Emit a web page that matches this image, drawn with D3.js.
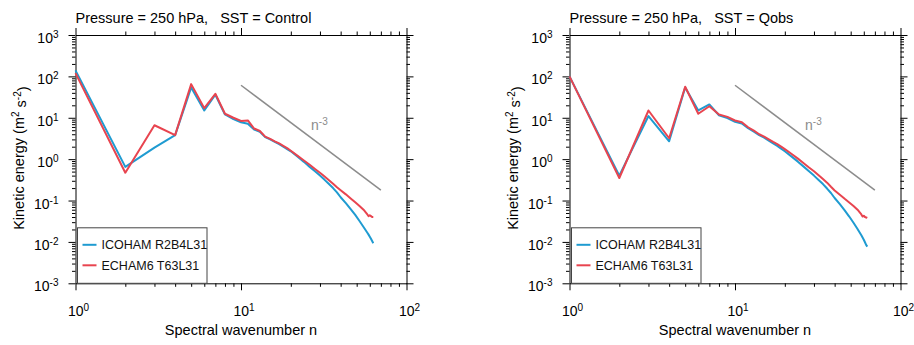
<!DOCTYPE html>
<html>
<head>
<meta charset="utf-8">
<script src="https://cdn.jsdelivr.net/npm/d3@7"></script>
<style>
  body { margin: 0; background: #fff; }
  svg { display: block; font-family: "Liberation Sans", Arial, Helvetica, sans-serif; }
</style>
</head>
<body>
<div id="chart"></div>
<script>
// wavenumbers sampled along the curves
const waveN = [1, 2, 3, 4, 5, 6, 7, 8, 9, 10, 11, 12, 13, 14, 15, 16, 17, 18, 19, 20,
    22, 24, 26, 28, 30, 32, 34, 36, 38, 40, 43, 46, 49, 52, 55, 58, 59, 60, 61, 62, 63];

// SST = Control
const icohamControl = [140, 0.65, 1.9, 3.8, 54, 15, 36, 12, 9.3, 7.8, 7.2, 5.2, 4.6, 3.4, 3.0, 2.6, 2.3, 2.0, 1.75, 1.55,
    1.15, 0.86, 0.65, 0.51, 0.40, 0.316, 0.25, 0.20, 0.158, 0.12, 0.0865, 0.062, 0.045, 0.032, 0.023, 0.0167, 0.015, 0.0134, 0.0119, 0.0105, 0.0093];
const echamControl = [120, 0.47, 6.6, 3.8, 65, 17, 38, 12.5, 10, 8.4, 8.6, 5.5, 4.8, 3.5, 3.1, 2.7, 2.4, 2.1, 1.85, 1.6,
    1.2, 0.93, 0.73, 0.58, 0.47, 0.38, 0.31, 0.255, 0.21, 0.178, 0.141, 0.112, 0.091, 0.074, 0.060, 0.046, 0.042, 0.044, 0.042, 0.040, 0.040];

// SST = Qobs
const icohamQobs = [100, 0.40, 11, 2.7, 54, 15, 21, 11.5, 9.8, 8.0, 7.3, 5.6, 4.6, 3.8, 3.3, 2.8, 2.4, 2.1, 1.8, 1.55,
    1.15, 0.87, 0.66, 0.51, 0.40, 0.315, 0.25, 0.195, 0.152, 0.115, 0.082, 0.058, 0.041, 0.029, 0.0205, 0.0145, 0.0128, 0.0113, 0.0098, 0.0085, 0.0077];
const echamQobs = [100, 0.35, 15, 3.2, 56, 12.5, 19, 12, 10.5, 8.6, 7.8, 5.9, 4.9, 4.0, 3.5, 3.0, 2.6, 2.3, 2.0, 1.75,
    1.33, 1.03, 0.80, 0.63, 0.51, 0.41, 0.33, 0.27, 0.215, 0.175, 0.138, 0.11, 0.09, 0.074, 0.060, 0.046, 0.041, 0.043, 0.040, 0.039, 0.038];

// n^-3 reference line end points
const refN = [10, 70];
const refE = [61, 0.178];

const xTicks = [1, 10, 100];
const yTicks = [1e-3, 1e-2, 1e-1, 1, 10, 100, 1000];
const seriesNames = ["ICOHAM R2B4L31", "ECHAM6 T63L31"];
const seriesColors = ["#1f9bd1", "#e8444f"];

const panels = [
    { title: "Pressure = 250 hPa,   SST = Control", series: [icohamControl, echamControl], dx: 0 },
    { title: "Pressure = 250 hPa,   SST = Qobs", series: [icohamQobs, echamQobs], dx: 494 }
];

const width = 914, height = 345;
const plot = { left: 75.5, top: 35, width: 331, height: 248.3 };

const svg = d3.select("#chart").append("svg").attr("width", width).attr("height", height);

function minors(lo, hi) {
    const out = [];
    for (let p = lo; p < hi; p++) {
        for (let k = 2; k <= 9; k++) out.push(k * Math.pow(10, p));
    }
    return out;
}

function exponent(v) {
    return Math.round(Math.log10(v));
}

function supLabel(sel, base, exp, supSize) {
    sel.text("");
    sel.append("tspan").text(base);
    sel.append("tspan").attr("dy", "-0.5em").attr("font-size", supSize).text(exp);
}

panels.forEach(p => {
    const g = svg.append("g").attr("transform", `translate(${p.dx + plot.left},${plot.top})`);

    const x = d3.scaleLog().domain([1, 100]).range([0, plot.width]);
    const y = d3.scaleLog().domain([1e-3, 1e3]).range([plot.height, 0]);

    const xMinor = minors(0, 2);
    const yMinor = minors(-3, 3);

    // axes on all four sides: minor ticks then major ticks
    const sides = [
        { ax: d3.axisBottom(x), t: `translate(0,${plot.height})`, major: xTicks, minor: xMinor },
        { ax: d3.axisTop(x), t: null, major: xTicks, minor: xMinor },
        { ax: d3.axisLeft(y), t: null, major: yTicks, minor: yMinor },
        { ax: d3.axisRight(y), t: `translate(${plot.width},0)`, major: yTicks, minor: yMinor }
    ];
    sides.forEach(s => {
        const minorG = g.append("g").attr("transform", s.t);
        minorG.call(s.ax.tickValues(s.minor).tickFormat("").tickSize(3.5).tickSizeOuter(0));
        minorG.select(".domain").remove();
        const majorG = g.append("g").attr("transform", s.t);
        majorG.call(s.ax.tickValues(s.major).tickFormat("").tickSize(7).tickSizeOuter(0));
        g.selectAll(".tick line, .domain").attr("stroke", "#000").attr("stroke-width", 1);
    });

    // tick labels with superscript exponents
    g.selectAll(".xlab").data(xTicks).enter().append("text")
        .attr("class", "xlab")
        .attr("x", d => x(d) + 3)
        .attr("y", plot.height + 33)
        .attr("text-anchor", "middle")
        .attr("font-size", 14)
        .each(function (d) { supLabel(d3.select(this), "10", exponent(d), 10); });

    g.selectAll(".ylab").data(yTicks).enter().append("text")
        .attr("class", "ylab")
        .attr("x", -17)
        .attr("y", d => y(d) + 8)
        .attr("text-anchor", "end")
        .attr("font-size", 14)
        .each(function (d) { supLabel(d3.select(this), "10", exponent(d), 10); });

    // n^-3 reference line
    const line = d3.line().x(d => x(d[0])).y(d => y(d[1]));
    g.append("path")
        .datum(d3.zip(refN, refE))
        .attr("d", line)
        .attr("fill", "none")
        .attr("stroke", "#8c8c8c")
        .attr("stroke-width", 1.5);
    const refLab = g.append("text")
        .attr("x", x(26.5))
        .attr("y", y(10) + 12)
        .attr("fill", "#8c8c8c")
        .attr("font-size", 14);
    supLabel(refLab, "n", "-3", 10);

    // spectra
    p.series.forEach((vals, i) => {
        g.append("path")
            .datum(d3.zip(waveN, vals))
            .attr("d", line)
            .attr("fill", "none")
            .attr("stroke", seriesColors[i])
            .attr("stroke-width", 2)
            .attr("stroke-linejoin", "round");
    });

    // legend
    const lg = g.append("g").attr("transform", `translate(2,${plot.height - 55.5})`);
    lg.append("rect")
        .attr("width", 129.5)
        .attr("height", 55.5)
        .attr("fill", "#fff")
        .attr("stroke", "#444")
        .attr("stroke-width", 1);
    seriesNames.forEach((name, i) => {
        const yy = 17 + i * 20.5;
        lg.append("line")
            .attr("x1", 5).attr("x2", 19)
            .attr("y1", yy).attr("y2", yy)
            .attr("stroke", seriesColors[i])
            .attr("stroke-width", 2);
        lg.append("text")
            .attr("x", 24)
            .attr("y", yy + 4.5)
            .attr("font-size", 12.5)
            .attr("fill", "#111")
            .text(name);
    });

    // title and axis labels
    g.append("text")
        .attr("x", 0)
        .attr("y", -12.5)
        .attr("font-size", 14.5)
        .attr("xml:space", "preserve")
        .style("white-space", "pre")
        .text(p.title);

    g.append("text")
        .attr("x", plot.width / 2)
        .attr("y", plot.height + 52)
        .attr("text-anchor", "middle")
        .attr("font-size", 14.5)
        .text("Spectral wavenumber n");

    const yl = g.append("text")
        .attr("transform", `translate(-52,${plot.height / 2 - 1}) rotate(-90)`)
        .attr("text-anchor", "middle")
        .attr("font-size", 14.5);
    yl.append("tspan").text("Kinetic energy (m");
    yl.append("tspan").attr("dy", "-0.45em").attr("font-size", 10).text("2");
    yl.append("tspan").attr("dy", "0.45em").text(" s");
    yl.append("tspan").attr("dy", "-0.45em").attr("font-size", 10).text("-2");
    yl.append("tspan").attr("dy", "0.45em").text(")");
});
</script>
</body>
</html>
